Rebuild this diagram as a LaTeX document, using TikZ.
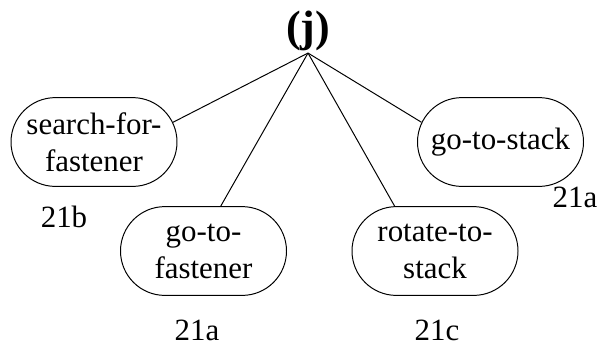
\documentclass[tikz,border=0pt]{standalone}
\usepackage{fontspec}
\setmainfont{Liberation Serif}
\usepackage{tikz}
\tikzstyle{task} = [rounded rectangle, minimum width = 4.15cm, minimum height=2.22cm, text centered, draw = black, align=center, inner sep=0pt, line width=0.7pt, font=\fontsize{22}{26.3}\selectfont]
\tikzstyle{branch} = [-, line width=0.7pt]
\tikzstyle{num} = [anchor=base, inner sep=0pt, font=\fontsize{22}{26.3}\selectfont]
\usetikzlibrary{shapes.misc, positioning}

\begin{document}
\begin{tikzpicture}
      \useasboundingbox (0,0) rectangle (15.075,8.675);
      \node[anchor=base, inner sep=0.06cm, font=\fontsize{31.3}{36}\selectfont\bfseries] (top) at (7.7,7.65) {(j)};

      \node[task] (srch) at (2.35,5.125) {search-for-\\fastener};
      \node[task] (gofast) at (5.0875,2.4) {go-to-\\fastener};
      \node[task] (rotstk) at (10.875,2.4) {rotate-to-\\stack};
      \node[task] (gostk) at (12.5125,5.125) {go-to-stack};

      \node[num] (n1) at (1.6,3.0) {21b};
      \node[num] (n2) at (4.925,0.175) {21a};
      \node[num] (n3) at (10.925,0.175) {21c};
      \node[num] (n4) at (14.375,3.5) {21a};

      \draw[branch](top.south) -- (srch.14);
      \draw[branch](top.south) -- (gofast.69);
      \draw[branch](top.south) -- (rotstk.132);
      \draw[branch](top.south) -- (gostk.166);
    \end{tikzpicture}
\end{document}
